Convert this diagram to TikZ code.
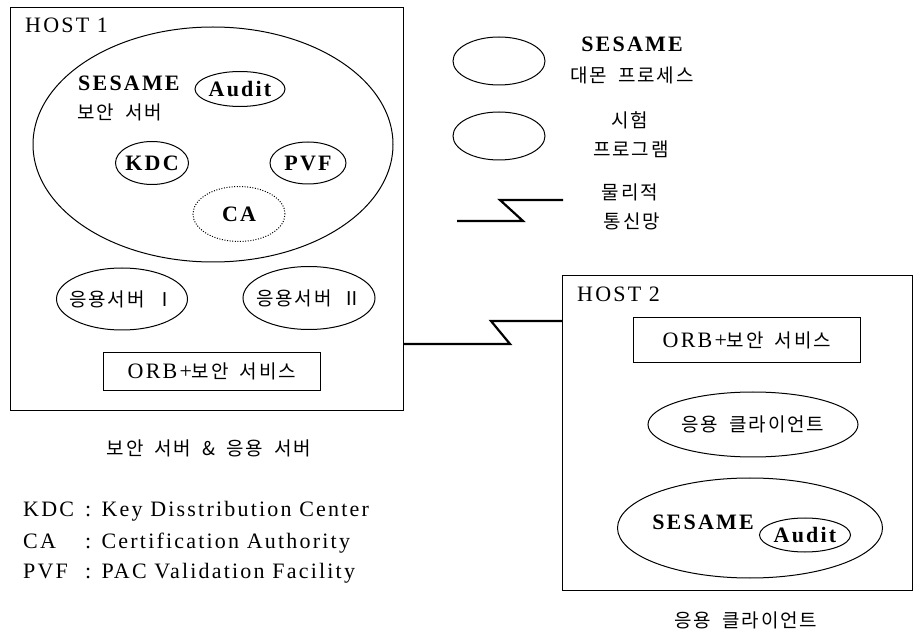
\documentclass[tikz,border=0pt]{standalone}
\usepackage{fontspec}
\setmainfont{Liberation Serif}[LetterSpace=10]
\newfontfamily\kr{Noto Sans CJK KR}[LetterSpace=10,WordSpace=1.8]
\usetikzlibrary{shapes.geometric}
\newcommand\KR[1]{{\kr\fontsize{19}{23}\selectfont #1}}
\begin{document}
\begin{tikzpicture}[x=1pt,y=-1pt,
  font=\fontsize{22}{26}\selectfont,
  box/.style={draw, line width=0.9pt, inner sep=0pt},
  oval/.style={draw, ellipse, line width=1pt, inner sep=0pt},
  dotoval/.style={oval, dash pattern=on 1pt off 1.6pt},
  zig/.style={line width=2.2pt, line join=miter},
  txt/.style={inner sep=0pt}]
\useasboundingbox (0,0) rectangle (914,636);

% HOST 1
\node[box, anchor=north west, minimum width=393pt, minimum height=403pt] (host1) at (10,7) {};
\node[txt, anchor=base west] (h1t) at (25,33) {HOST 1};
\node[oval, minimum width=360pt, minimum height=235pt] (sesame1) at (213,144.5) {};
\node[txt, anchor=base west] (ses1t) at (78,91) {\bfseries SESAME};
\node[txt, anchor=base west] (ses1k) at (77,120) {\KR{보안 서버}};
\node[oval, minimum width=90pt, minimum height=35pt, label={center:\bfseries Audit}] (audit1) at (240,89) {};
\node[oval, minimum width=73pt, minimum height=43pt, label={center:\bfseries KDC}] (kdc) at (152,163) {};
\node[oval, minimum width=76pt, minimum height=42pt, label={center:\bfseries PVF}] (pvf) at (308,163) {};
\node[dotoval, minimum width=92pt, minimum height=55pt, label={center:\bfseries CA}] (ca) at (239,214) {};
\node[oval, minimum width=131pt, minimum height=62pt, label={center:\KR{응용서버 Ⅰ}}] (app1) at (122,299) {};
\node[oval, minimum width=132pt, minimum height=63pt, label={center:\KR{응용서버 Ⅱ}}] (app2) at (309,298) {};
\node[box, anchor=north west, minimum width=217pt, minimum height=38pt] (orb1) at (103,352) {ORB+\KR{보안 서비스}};
\node[txt] (cap1) at (209,448) {\KR{보안 서버 \& 응용 서버}};

% abbreviations
\node[txt, anchor=base west] (a1) at (23,517) {KDC};
\node[txt, anchor=base west] (a1d) at (85,517) {: Key Disstribution Center};
\node[txt, anchor=base west] (a2) at (23,548) {CA};
\node[txt, anchor=base west] (a2d) at (85,548) {: Certification Authority};
\node[txt, anchor=base west] (a3) at (23,578) {PVF};
\node[txt, anchor=base west] (a3d) at (85,578) {: PAC Validation Facility};

% link
\coordinate (l1) at (403,344);
\coordinate (l2) at (562,321);
\draw[zig] (l1) -- (510,344) -- (491,321) -- (l2);

% HOST 2
\node[box, anchor=north west, minimum width=350pt, minimum height=315pt] (host2) at (562,275) {};
\node[txt, anchor=base west] (h2t) at (577,302) {HOST 2};
\node[box, anchor=north west, minimum width=227pt, minimum height=45pt] (orb2) at (633,317) {ORB+\KR{보안 서비스}};
\node[oval, minimum width=210pt, minimum height=65pt, label={center:\KR{응용 클라이언트}}] (client) at (753,424.5) {};
\node[oval, minimum width=265pt, minimum height=100pt] (sesame2) at (750,528) {};
\node[txt] (ses2t) at (703,522) {\bfseries SESAME};
\node[oval, minimum width=91pt, minimum height=34pt, label={center:\bfseries Audit}] (audit2) at (805,535) {};
\node[txt] (cap2) at (746,620) {\KR{응용 클라이언트}};

% legend
\node[oval, minimum width=92pt, minimum height=48pt] (lg1) at (499,61) {};
\node[oval, minimum width=92pt, minimum height=48pt] (lg2) at (499,136) {};
\node[txt] (lg1a) at (632,44) {\bfseries SESAME};
\node[txt] (lg1b) at (632,75) {\KR{대몬 프로세스}};
\node[txt] (lg2a) at (630,120) {\KR{시험}};
\node[txt] (lg2b) at (631,149) {\KR{프로그램}};
\node[txt] (lg3a) at (630,192) {\KR{물리적}};
\node[txt] (lg3b) at (632,221) {\KR{통신망}};
\coordinate (z1) at (457,221);
\coordinate (z2) at (563,200);
\draw[zig] (z1) -- (523,221) -- (500,200) -- (z2);
\end{tikzpicture}
\end{document}
